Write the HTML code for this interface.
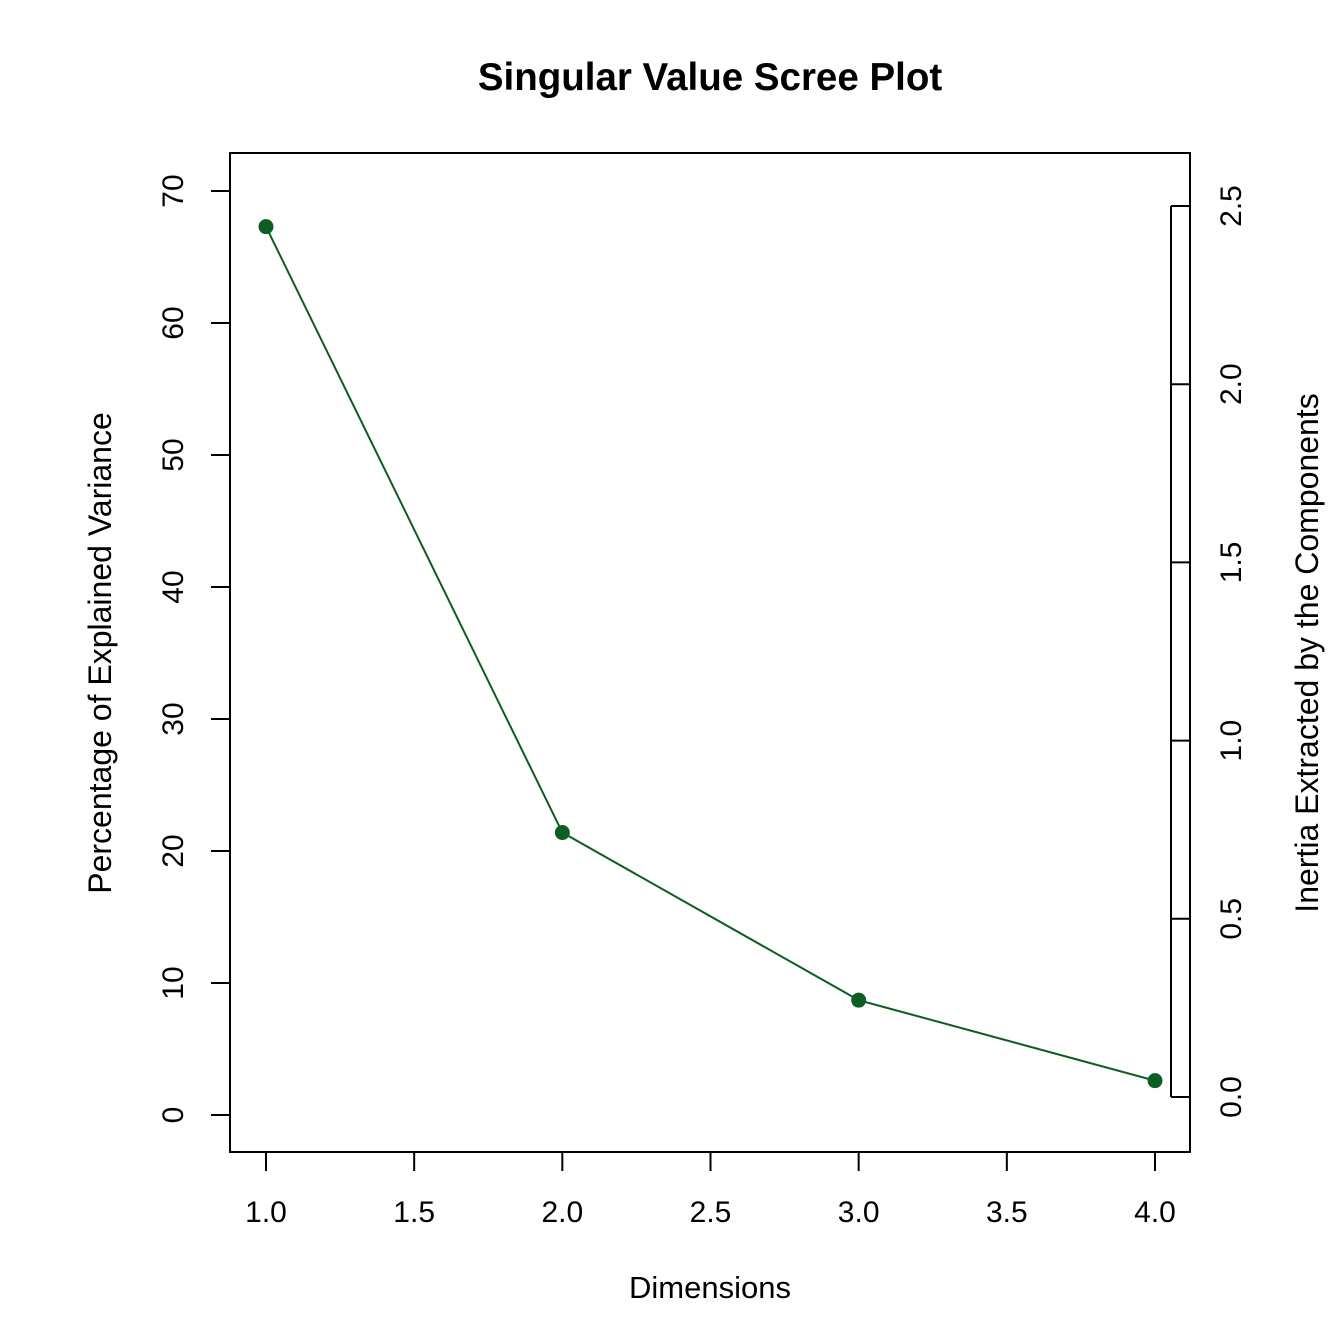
<!DOCTYPE html>
<html><head><meta charset="utf-8"><style>
html,body{margin:0;padding:0;background:#fff}
svg{display:block;font-family:"Liberation Sans",Arial,sans-serif}
</style></head><body>
<svg id="chart" width="1344" height="1344" viewBox="0 0 1344 1344">
<rect width="1344" height="1344" fill="#fff"/>
<text x="710" y="90" text-anchor="middle" font-size="38.5" font-weight="bold">Singular Value Scree Plot</text>
<rect x="230" y="153" width="960" height="999" fill="none" stroke="#000" stroke-width="2"/>
<g id="xaxis"></g>
<g id="yaxis"></g>
<g id="raxis"></g>
<g id="series"></g>
<text x="710" y="1298" text-anchor="middle" font-size="31">Dimensions</text>
<text transform="translate(111,653) rotate(-90)" text-anchor="middle" font-size="32">Percentage of Explained Variance</text>
<text transform="translate(1318,653) rotate(-90)" text-anchor="middle" font-size="32">Inertia Extracted by the Components</text>
</svg>
<script>
const dims = [1, 2, 3, 4];
const percents = [67.3, 21.4, 8.7, 2.6];
const xTicks = [1.0, 1.5, 2.0, 2.5, 3.0, 3.5, 4.0];
const xTickLabels = ["1.0", "1.5", "2.0", "2.5", "3.0", "3.5", "4.0"];
const yTicks = [0, 10, 20, 30, 40, 50, 60, 70];
const rTicks = [0.0, 0.5, 1.0, 1.5, 2.0, 2.5];
const rTickLabels = ["0.0", "0.5", "1.0", "1.5", "2.0", "2.5"];

const NS = "http://www.w3.org/2000/svg";
const xs = v => 266 + (v - 1) * (1155 - 266) / 3;
const ys = v => 1115 - v * 13.2;
const rs = v => 1097 - v * (1097 - 206) / 2.5;
function mk(tag, attrs, parent) {
  const e = document.createElementNS(NS, tag);
  for (const k in attrs) e.setAttribute(k, attrs[k]);
  parent.appendChild(e);
  return e;
}
const xg = document.getElementById('xaxis');
xTicks.forEach((t, i) => {
  const l = mk('line', {x1: xs(t), x2: xs(t), y1: 1152, y2: 1171, stroke: '#000', 'stroke-width': 2}, xg);
  
  
  const tx = mk('text', {x: xs(t), y: 1222, 'text-anchor': 'middle', 'font-size': 30}, xg);
  tx.textContent = xTickLabels[i];
  
  
});
const yg = document.getElementById('yaxis');
yTicks.forEach(t => {
  const l = mk('line', {x1: 211, x2: 230, y1: ys(t), y2: ys(t), stroke: '#000', 'stroke-width': 2}, yg);
  
  
  const tx = mk('text', {transform: `translate(183,${ys(t)}) rotate(-90)`, 'text-anchor': 'middle', 'font-size': 30}, yg);
  tx.textContent = String(t);
  
  
});
const rg = document.getElementById('raxis');
const rl = mk('line', {x1: 1171, x2: 1171, y1: rs(rTicks[0]), y2: rs(rTicks[rTicks.length-1]), stroke: '#000', 'stroke-width': 2}, rg);


rTicks.forEach((t, i) => {
  const l = mk('line', {x1: 1171, x2: 1190, y1: rs(t), y2: rs(t), stroke: '#000', 'stroke-width': 2}, rg);
  
  
  const tx = mk('text', {transform: `translate(1241,${rs(t)}) rotate(-90)`, 'text-anchor': 'middle', 'font-size': 30}, rg);
  tx.textContent = rTickLabels[i];
  
  
});
const sg = document.getElementById('series');
const pl = mk('polyline', {points: dims.map((d, i) => xs(d) + ',' + ys(percents[i])).join(' '), fill: 'none', stroke: '#0d5e22', 'stroke-width': 2}, sg);


dims.forEach((d, i) => {
  const c = mk('circle', {cx: xs(d), cy: ys(percents[i]), r: 7.5, fill: '#0d5e22'}, sg);
  
  
});
</script>
</body></html>
